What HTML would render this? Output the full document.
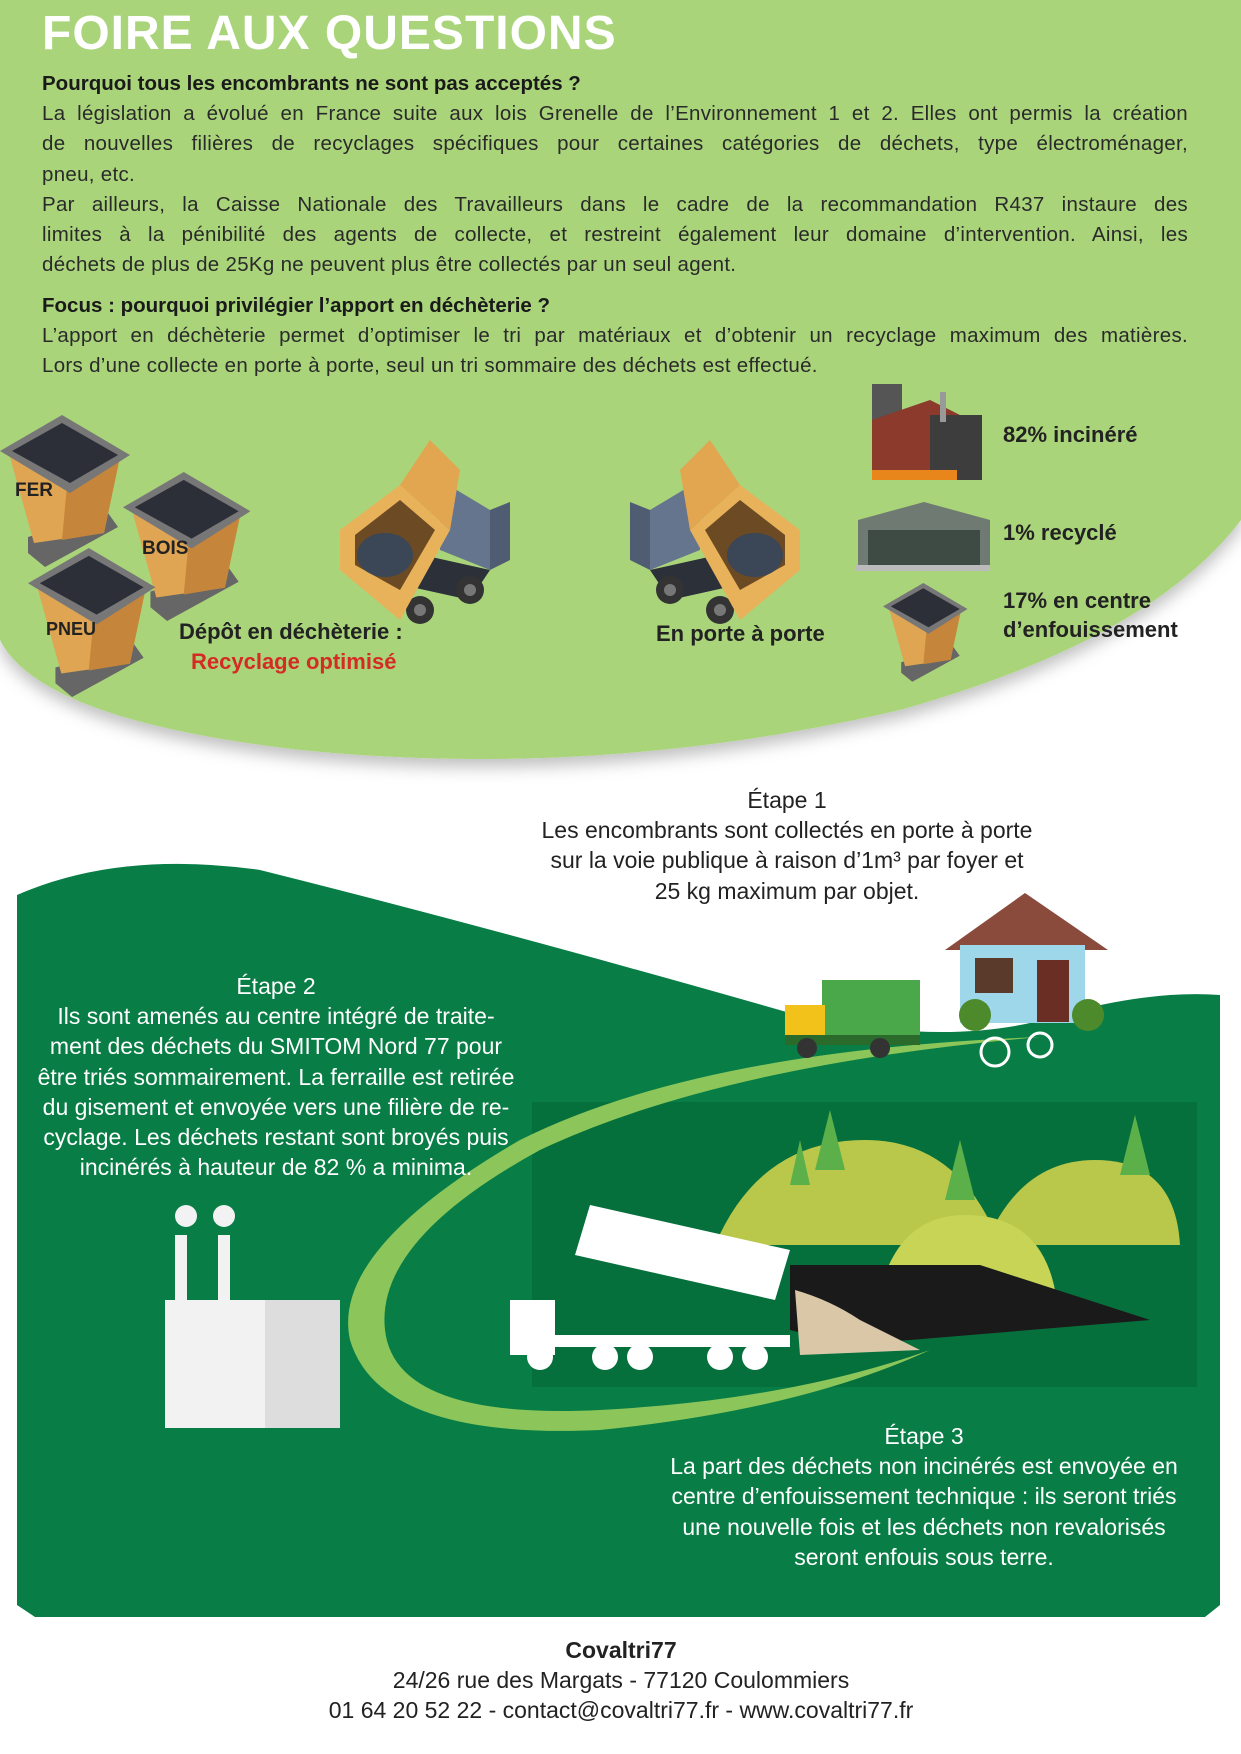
<!DOCTYPE html>
<html><head><meta charset="utf-8"><style>
*{margin:0;padding:0;box-sizing:border-box}
body{width:1241px;height:1754px;position:relative;background:#fff;font-family:"Liberation Sans",sans-serif;color:#222;overflow:hidden}
svg{position:absolute;left:0;top:0}
.t{position:absolute;white-space:nowrap}
.j{position:absolute;left:42px;width:1146px;font-size:20.5px;line-height:30.2px;color:#2a2a2a;letter-spacing:0.3px}
.j div{text-align:justify;text-align-last:justify;height:30.2px;white-space:nowrap}
.j div.l{text-align-last:left}
.h{font-weight:bold;font-size:20.5px;color:#1a1a1a;letter-spacing:0}
.c{position:absolute;text-align:center;font-size:23px;line-height:30.2px;white-space:nowrap}
.w{color:#fff}
.b{font-weight:bold;font-size:21px;color:#222}
</style></head><body>
<svg width="1241" height="1754" viewBox="0 0 1241 1754">
<defs>
<filter id="sh" x="-5%" y="-5%" width="110%" height="120%"><feDropShadow dx="0" dy="8" stdDeviation="8" flood-color="#000" flood-opacity="0.25"/></filter>
<g id="bin">
<polygon points="28,122 108,98 118,112 45,152 28,138" fill="#666"/>
<polygon points="10,42 120,42 104,118 34,128" fill="#e0a552"/>
<polygon points="68,60 120,42 104,118 62,125" fill="#c5853a"/>
<polygon points="0,36 62,0 130,40 70,78" fill="#777"/>
<polygon points="12,36 62,8 118,40 70,68" fill="#2c2e38"/>
</g>
<g id="truck">
<polygon points="100,40 150,70 150,130 100,110" fill="#66758e"/>
<polygon points="150,70 170,62 170,120 150,130" fill="#4f5c72"/>
<polygon points="60,110 150,130 130,160 40,140" fill="#2c3038"/>
<circle cx="130" cy="150" r="14" fill="#333"/><circle cx="130" cy="150" r="6" fill="#777"/>
<circle cx="80" cy="170" r="14" fill="#333"/><circle cx="80" cy="170" r="6" fill="#777"/>
<polygon points="0,90 60,45 110,90 60,180 0,130" fill="#e8b25a"/>
<polygon points="15,95 60,60 95,90 60,150 15,125" fill="#6b4a24"/>
<polygon points="60,45 90,0 120,30 110,90" fill="#e2a650"/>
<ellipse cx="45" cy="115" rx="28" ry="22" fill="#3b4656"/>
</g>
</defs>
<path d="M0,0 H1241 V520 Q1150,640 900,710 Q600,780 300,750 Q40,720 0,640 Z" fill="#a9d47a" filter="url(#sh)"/>
<use href="#bin" transform="translate(0,415)"/>
<use href="#bin" transform="translate(123,472) scale(0.98)"/>
<use href="#bin" transform="translate(28,548) scale(0.98)"/>
<use href="#bin" transform="translate(883,583) scale(0.65)"/>
<use href="#truck" transform="translate(340,440)"/>
<use href="#truck" transform="translate(800,440) scale(-1,1)"/>
<rect x="872" y="384" width="30" height="55" fill="#555"/>
<polygon points="872,420 930,400 960,415 960,480 872,480" fill="#8c3a2b"/>
<rect x="930" y="415" width="52" height="65" fill="#3d3d3d"/>
<rect x="940" y="392" width="6" height="30" fill="#999"/>
<rect x="872" y="470" width="85" height="10" fill="#e8861c"/>
<polygon points="858,520 924,502 990,520 990,565 858,565" fill="#6f7a72"/>
<rect x="868" y="530" width="112" height="35" fill="#3e4a44"/>
<rect x="856" y="565" width="134" height="6" fill="#bbb"/>
<path d="M17,895 Q120,850 260,870 Q500,930 790,1013 Q950,1050 1060,1015 Q1150,990 1220,995 V1605 L1205,1617 H35 L17,1605 Z" fill="#087e46"/>
<rect x="532" y="1102" width="665" height="285" fill="#06703c"/>
<path d="M1040,1037 Q700,1050 520,1140 Q330,1250 350,1340 Q380,1440 600,1430 Q800,1410 930,1350 Q790,1400 600,1410 Q395,1420 385,1330 Q375,1240 540,1150 Q720,1065 1040,1037 Z" fill="#8cc65a"/>
<path d="M715,1245 Q760,1140 865,1140 Q960,1140 1000,1245 Z" fill="#b9c84a"/>
<path d="M985,1245 Q1020,1160 1095,1160 Q1175,1160 1180,1245 Z" fill="#b9c84a"/>
<path d="M880,1290 Q900,1215 965,1215 Q1040,1215 1055,1290 Z" fill="#c8d456"/>
<polygon points="790,1265 980,1265 1150,1320 850,1345 790,1330" fill="#1a1a1a"/>
<g fill="#5cb04a"><polygon points="830,1110 815,1170 845,1170"/><polygon points="960,1140 945,1200 975,1200"/><polygon points="1135,1115 1120,1175 1150,1175"/><polygon points="800,1140 790,1185 810,1185"/></g>
<g fill="#fff">
<polygon points="590,1205 790,1250 775,1300 575,1255"/>
<rect x="510" y="1300" width="45" height="55"/>
<rect x="510" y="1335" width="280" height="12"/>
<circle cx="540" cy="1357" r="13"/><circle cx="605" cy="1357" r="13"/><circle cx="640" cy="1357" r="13"/><circle cx="720" cy="1357" r="13"/><circle cx="755" cy="1357" r="13"/>
</g>
<path d="M795,1290 Q830,1300 860,1320 L920,1350 L800,1355 Z" fill="#d9c7a8"/>
<g fill="#f2f2f2">
<rect x="175" y="1235" width="12" height="90"/><rect x="218" y="1235" width="12" height="90"/>
<rect x="165" y="1300" width="130" height="128"/><rect x="265" y="1300" width="75" height="128" fill="#ddd"/>
<circle cx="186" cy="1216" r="11"/><circle cx="224" cy="1216" r="11"/>
</g>
<polygon points="945,950 1025,893 1108,950" fill="#8a4a3c"/>
<rect x="960" y="945" width="125" height="78" fill="#9fd7ea"/>
<rect x="975" y="958" width="38" height="35" fill="#5a3a2a"/>
<rect x="1037" y="960" width="32" height="62" fill="#6a2e24"/>
<circle cx="975" cy="1015" r="16" fill="#4d8a2c"/><circle cx="1088" cy="1015" r="16" fill="#4d8a2c"/>
<rect x="822" y="980" width="98" height="55" fill="#4aa84a"/>
<rect x="785" y="1005" width="40" height="35" fill="#f2c21a"/>
<rect x="785" y="1035" width="135" height="10" fill="#2a6a2a"/>
<circle cx="807" cy="1048" r="10" fill="#333"/><circle cx="880" cy="1048" r="10" fill="#333"/>
<circle cx="995" cy="1052" r="14" fill="none" stroke="#fff" stroke-width="3"/><circle cx="1040" cy="1045" r="12" fill="none" stroke="#fff" stroke-width="3"/>
</svg>

<div class="t" style="left:42px;top:6px;font-size:48px;font-weight:bold;color:#fff;letter-spacing:1px">FOIRE AUX QUESTIONS</div>
<div class="j" style="top:69px">
<div class="l h">Pourquoi tous les encombrants ne sont pas acceptés ?</div>
<div>La législation a évolué en France suite aux lois Grenelle de l’Environnement 1 et 2. Elles ont permis la création</div>
<div>de nouvelles filières de recyclages spécifiques pour certaines catégories de déchets, type électroménager,</div>
<div class="l">pneu, etc.</div>
<div>Par ailleurs, la Caisse Nationale des Travailleurs dans le cadre de la recommandation R437 instaure des</div>
<div>limites à la pénibilité des agents de collecte, et restreint également leur domaine d’intervention. Ainsi, les</div>
<div class="l">déchets de plus de 25Kg ne peuvent plus être collectés par un seul agent.</div>
</div>
<div class="j" style="top:291px">
<div class="l h">Focus : pourquoi privilégier l’apport en déchèterie ?</div>
<div>L’apport en déchèterie permet d’optimiser le tri par matériaux et d’obtenir un recyclage maximum des matières.</div>
<div class="l">Lors d’une collecte en porte à porte, seul un tri sommaire des déchets est effectué.</div>
</div>

<div class="t b" style="left:15px;top:480px;font-size:19px">FER</div>
<div class="t b" style="left:142px;top:538px;font-size:19px">BOIS</div>
<div class="t b" style="left:46px;top:619px;font-size:18px">PNEU</div>
<div class="t b" style="left:179px;top:619px;font-size:22px">Dépôt en déchèterie :</div>
<div class="t b" style="left:191px;top:649px;color:#d52b25;font-size:22px">Recyclage optimisé</div>
<div class="t b" style="left:656px;top:621px;font-size:22px">En porte à porte</div>
<div class="t b" style="left:1003px;top:422px;font-size:22px">82% incinéré</div>
<div class="t b" style="left:1003px;top:520px;font-size:22px">1% recyclé</div>
<div class="t b" style="left:1003px;top:588px;font-size:22px">17% en centre</div>
<div class="t b" style="left:1003px;top:617px;font-size:22px">d’enfouissement</div>

<div class="c" style="left:487px;width:600px;top:785px">Étape 1<br>Les encombrants sont collectés en porte à porte<br>sur la voie publique à raison d’1m³ par foyer et<br>25 kg maximum par objet.</div>
<div class="c w" style="left:0;width:552px;top:971px">Étape 2<br>Ils sont amenés au centre intégré de traite-<br>ment des déchets du SMITOM Nord 77 pour<br>être triés sommairement. La ferraille est retirée<br>du gisement et envoyée vers une filière de re-<br>cyclage. Les déchets restant sont broyés puis<br>incinérés à hauteur de 82 % a minima.</div>
<div class="c w" style="left:624px;width:600px;top:1421px">Étape 3<br>La part des déchets non incinérés est envoyée en<br>centre d’enfouissement technique : ils seront triés<br>une nouvelle fois et les déchets non revalorisés<br>seront enfouis sous terre.</div>

<div class="c" style="left:321px;width:600px;top:1635px"><b>Covaltri77</b><br>24/26 rue des Margats - 77120 Coulommiers<br>01 64 20 52 22 - contact@covaltri77.fr - www.covaltri77.fr</div>
</body></html>
